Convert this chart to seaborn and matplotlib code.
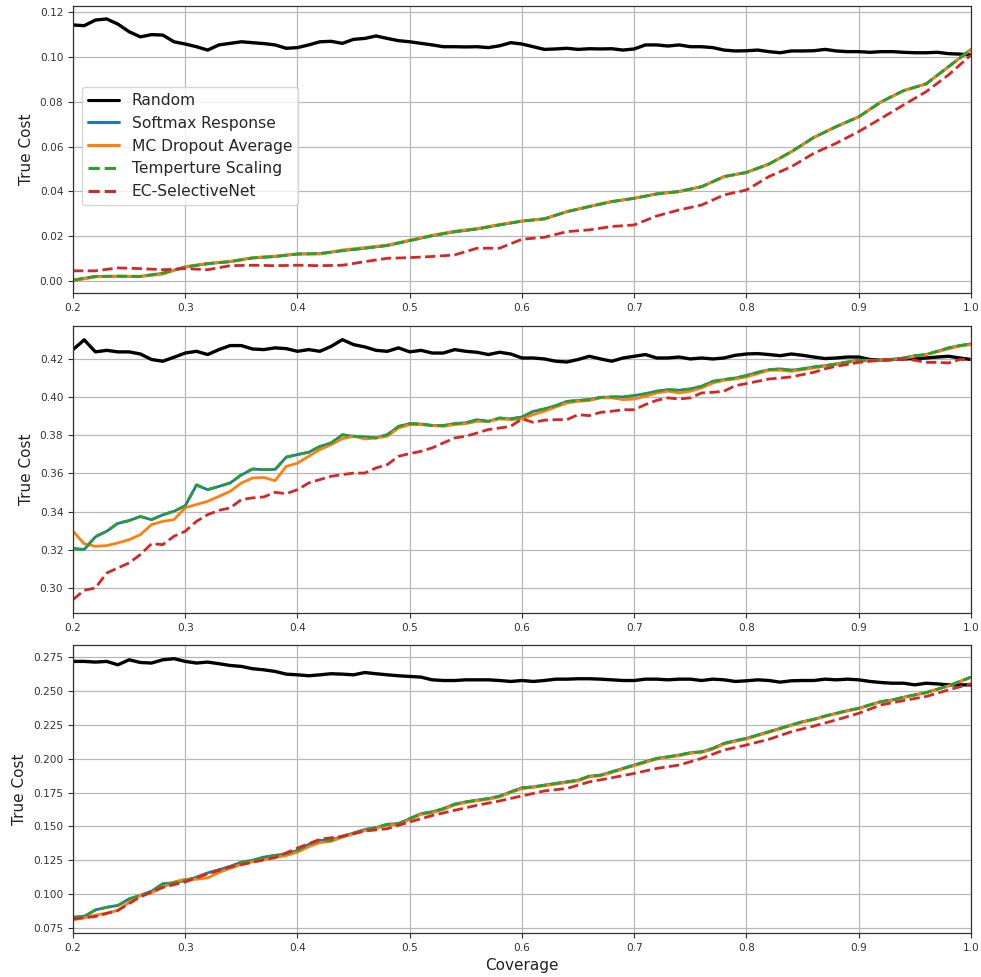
import numpy as np
import pandas as pd
import matplotlib
matplotlib.use("Agg")
import matplotlib.pyplot as plt
import seaborn as sns

# ---------------------------------------------------------------- data
cov_fine = np.round(np.arange(0.20, 1.0001, 0.01), 2)    # 81 points
cov_coarse = np.round(np.arange(0.20, 1.0001, 0.02), 2)  # 41 points

method_names = ["Random", "Softmax Response", "MC Dropout Average",
                "Temperture Scaling", "EC-SelectiveNet"]

# panel 1
p1_random = [
    0.1143, 0.1140, 0.1165, 0.1170, 0.1147, 0.1113, 0.1090, 0.1100, 0.1098, 0.1068,
    0.1058, 0.1046, 0.1031, 0.1054, 0.1061, 0.1068, 0.1064, 0.1060, 0.1054, 0.1039,
    0.1042, 0.1054, 0.1068, 0.1070, 0.1061, 0.1079, 0.1083, 0.1094, 0.1083, 0.1073,
    0.1068, 0.1061, 0.1054, 0.1046, 0.1046, 0.1045, 0.1046, 0.1042, 0.1050, 0.1064,
    0.1058, 0.1046, 0.1034, 0.1036, 0.1039, 0.1034, 0.1037, 0.1036, 0.1037, 0.1031,
    0.1036, 0.1054, 0.1054, 0.1049, 0.1054, 0.1046, 0.1046, 0.1042, 0.1031, 0.1027,
    0.1028, 0.1031, 0.1024, 0.1019, 0.1027, 0.1027, 0.1028, 0.1034, 0.1027, 0.1024,
    0.1024, 0.1021, 0.1024, 0.1024, 0.1021, 0.1019, 0.1019, 0.1021, 0.1015, 0.1013,
    0.1009]
p1_softmax = [
    0.0003, 0.0020, 0.0021, 0.0020, 0.0034, 0.0062, 0.0077, 0.0086, 0.0103, 0.0109,
    0.0120, 0.0122, 0.0135, 0.0146, 0.0158, 0.0180, 0.0202, 0.0219, 0.0232, 0.0250,
    0.0267, 0.0278, 0.0309, 0.0332, 0.0354, 0.0369, 0.0389, 0.0400, 0.0421, 0.0466,
    0.0485, 0.0522, 0.0577, 0.0641, 0.0689, 0.0733, 0.0800, 0.0850, 0.0880, 0.0957,
    0.1034]
p1_mcdropout = [
    0.0000, 0.0018, 0.0021, 0.0020, 0.0030, 0.0064, 0.0078, 0.0088, 0.0104, 0.0111,
    0.0121, 0.0120, 0.0138, 0.0149, 0.0160, 0.0182, 0.0204, 0.0222, 0.0234, 0.0252,
    0.0268, 0.0276, 0.0310, 0.0333, 0.0355, 0.0369, 0.0388, 0.0398, 0.0420, 0.0465,
    0.0484, 0.0521, 0.0576, 0.0641, 0.0690, 0.0733, 0.0799, 0.0849, 0.0880, 0.0956,
    0.1033]
p1_tempscale = [
    0.0004, 0.0020, 0.0021, 0.0020, 0.0035, 0.0062, 0.0077, 0.0086, 0.0102, 0.0109,
    0.0120, 0.0122, 0.0135, 0.0146, 0.0158, 0.0180, 0.0202, 0.0220, 0.0232, 0.0250,
    0.0267, 0.0277, 0.0309, 0.0332, 0.0354, 0.0369, 0.0388, 0.0399, 0.0421, 0.0466,
    0.0484, 0.0522, 0.0577, 0.0641, 0.0689, 0.0733, 0.0800, 0.0850, 0.0880, 0.0957,
    0.1034]
p1_ecsnet = [
    0.0045, 0.0045, 0.0058, 0.0055, 0.0050, 0.0055, 0.0050, 0.0068, 0.0070, 0.0068,
    0.0070, 0.0068, 0.0070, 0.0086, 0.0101, 0.0104, 0.0109, 0.0116, 0.0146, 0.0146,
    0.0186, 0.0195, 0.0220, 0.0228, 0.0243, 0.0250, 0.0290, 0.0317, 0.0339, 0.0384,
    0.0406, 0.0466, 0.0510, 0.0570, 0.0615, 0.0667, 0.0726, 0.0786, 0.0845, 0.0920,
    0.1009]

# panel 2
p2_random = [
    0.4249, 0.4300, 0.4237, 0.4245, 0.4237, 0.4237, 0.4226, 0.4197, 0.4188, 0.4209,
    0.4231, 0.4240, 0.4223, 0.4249, 0.4270, 0.4270, 0.4252, 0.4249, 0.4258, 0.4254,
    0.4240, 0.4249, 0.4240, 0.4266, 0.4301, 0.4275, 0.4263, 0.4245, 0.4240, 0.4258,
    0.4237, 0.4245, 0.4231, 0.4231, 0.4249, 0.4240, 0.4235, 0.4223, 0.4235, 0.4226,
    0.4205, 0.4205, 0.4200, 0.4188, 0.4184, 0.4197, 0.4214, 0.4200, 0.4188, 0.4205,
    0.4214, 0.4223, 0.4205, 0.4205, 0.4210, 0.4200, 0.4205, 0.4200, 0.4205, 0.4219,
    0.4226, 0.4228, 0.4223, 0.4217, 0.4226, 0.4219, 0.4210, 0.4202, 0.4205, 0.4210,
    0.4210, 0.4197, 0.4193, 0.4197, 0.4200, 0.4202, 0.4205, 0.4210, 0.4214, 0.4205,
    0.4197]
p2_softmax = [
    0.3207, 0.3202, 0.3268, 0.3297, 0.3338, 0.3353, 0.3374, 0.3358, 0.3383, 0.3402,
    0.3430, 0.3539, 0.3515, 0.3532, 0.3550, 0.3592, 0.3623, 0.3620, 0.3621, 0.3685,
    0.3699, 0.3711, 0.3741, 0.3760, 0.3802, 0.3795, 0.3791, 0.3787, 0.3803, 0.3846,
    0.3861, 0.3859, 0.3852, 0.3851, 0.3861, 0.3866, 0.3881, 0.3873, 0.3890, 0.3886,
    0.3896, 0.3925, 0.3938, 0.3955, 0.3977, 0.3982, 0.3987, 0.3998, 0.4001, 0.4001,
    0.4008, 0.4018, 0.4031, 0.4039, 0.4036, 0.4043, 0.4057, 0.4082, 0.4092, 0.4100,
    0.4113, 0.4130, 0.4143, 0.4148, 0.4141, 0.4148, 0.4158, 0.4165, 0.4174, 0.4184,
    0.4193, 0.4193, 0.4193, 0.4197, 0.4205, 0.4217, 0.4223, 0.4240, 0.4258, 0.4270,
    0.4279]
p2_mcdropout = [
    0.3297, 0.3232, 0.3218, 0.3222, 0.3236, 0.3253, 0.3279, 0.3332, 0.3349, 0.3358,
    0.3420, 0.3437, 0.3454, 0.3480, 0.3506, 0.3550, 0.3576, 0.3579, 0.3562, 0.3637,
    0.3654, 0.3690, 0.3725, 0.3751, 0.3782, 0.3795, 0.3781, 0.3786, 0.3795, 0.3838,
    0.3856, 0.3856, 0.3851, 0.3847, 0.3856, 0.3861, 0.3873, 0.3873, 0.3886, 0.3882,
    0.3886, 0.3908, 0.3926, 0.3948, 0.3969, 0.3978, 0.3982, 0.3996, 0.3996, 0.3987,
    0.3990, 0.4004, 0.4022, 0.4031, 0.4022, 0.4031, 0.4048, 0.4074, 0.4088, 0.4095,
    0.4106, 0.4123, 0.4141, 0.4141, 0.4135, 0.4144, 0.4153, 0.4162, 0.4171, 0.4182,
    0.4190, 0.4190, 0.4193, 0.4197, 0.4202, 0.4214, 0.4223, 0.4237, 0.4253, 0.4267,
    0.4275]
p2_tempscale = [
    0.3205, 0.3200, 0.3270, 0.3297, 0.3340, 0.3353, 0.3375, 0.3358, 0.3384, 0.3402,
    0.3431, 0.3541, 0.3515, 0.3533, 0.3550, 0.3594, 0.3624, 0.3620, 0.3620, 0.3686,
    0.3699, 0.3711, 0.3742, 0.3760, 0.3803, 0.3795, 0.3791, 0.3786, 0.3803, 0.3847,
    0.3861, 0.3859, 0.3851, 0.3851, 0.3861, 0.3865, 0.3882, 0.3873, 0.3891, 0.3886,
    0.3896, 0.3926, 0.3938, 0.3955, 0.3978, 0.3982, 0.3987, 0.3999, 0.4001, 0.4001,
    0.4008, 0.4018, 0.4031, 0.4039, 0.4036, 0.4043, 0.4057, 0.4083, 0.4092, 0.4100,
    0.4113, 0.4130, 0.4144, 0.4148, 0.4141, 0.4148, 0.4158, 0.4165, 0.4174, 0.4184,
    0.4193, 0.4193, 0.4193, 0.4197, 0.4205, 0.4217, 0.4223, 0.4240, 0.4258, 0.4270,
    0.4279]
p2_ecsnet = [
    0.2939, 0.2988, 0.3000, 0.3078, 0.3105, 0.3131, 0.3175, 0.3232, 0.3227, 0.3271,
    0.3297, 0.3349, 0.3384, 0.3407, 0.3419, 0.3463, 0.3472, 0.3477, 0.3501, 0.3494,
    0.3515, 0.3550, 0.3568, 0.3585, 0.3594, 0.3602, 0.3602, 0.3629, 0.3646, 0.3690,
    0.3704, 0.3716, 0.3734, 0.3760, 0.3786, 0.3795, 0.3812, 0.3830, 0.3838, 0.3847,
    0.3886, 0.3868, 0.3879, 0.3882, 0.3882, 0.3908, 0.3903, 0.3920, 0.3926, 0.3934,
    0.3934, 0.3961, 0.3983, 0.3996, 0.3990, 0.3996, 0.4022, 0.4025, 0.4031, 0.4060,
    0.4071, 0.4083, 0.4095, 0.4100, 0.4106, 0.4118, 0.4130, 0.4148, 0.4162, 0.4171,
    0.4182, 0.4188, 0.4193, 0.4197, 0.4200, 0.4193, 0.4182, 0.4182, 0.4179, 0.4197,
    0.4197]

# panel 3
p3_random = [
    0.2718, 0.2718, 0.2713, 0.2718, 0.2693, 0.2730, 0.2710, 0.2706, 0.2730, 0.2738,
    0.2718, 0.2706, 0.2713, 0.2701, 0.2688, 0.2681, 0.2664, 0.2656, 0.2644, 0.2624,
    0.2619, 0.2612, 0.2619, 0.2627, 0.2624, 0.2619, 0.2636, 0.2627, 0.2619, 0.2612,
    0.2607, 0.2602, 0.2582, 0.2577, 0.2577, 0.2582, 0.2582, 0.2582, 0.2577, 0.2570,
    0.2577, 0.2570, 0.2577, 0.2587, 0.2587, 0.2590, 0.2590, 0.2587, 0.2582, 0.2577,
    0.2577, 0.2587, 0.2587, 0.2582, 0.2587, 0.2587, 0.2577, 0.2587, 0.2582, 0.2570,
    0.2575, 0.2582, 0.2577, 0.2565, 0.2575, 0.2577, 0.2577, 0.2587, 0.2582, 0.2587,
    0.2582, 0.2570, 0.2562, 0.2557, 0.2557, 0.2545, 0.2557, 0.2552, 0.2545, 0.2545,
    0.2545]
p3_softmax = [
    0.0830, 0.0836, 0.0884, 0.0903, 0.0917, 0.0965, 0.0991, 0.1022, 0.1077, 0.1083,
    0.1100, 0.1125, 0.1157, 0.1180, 0.1205, 0.1236, 0.1250, 0.1274, 0.1286, 0.1297,
    0.1323, 0.1368, 0.1397, 0.1398, 0.1428, 0.1451, 0.1477, 0.1491, 0.1516, 0.1521,
    0.1558, 0.1594, 0.1608, 0.1631, 0.1664, 0.1681, 0.1694, 0.1706, 0.1723, 0.1755,
    0.1785, 0.1792, 0.1805, 0.1817, 0.1829, 0.1841, 0.1871, 0.1879, 0.1903, 0.1928,
    0.1953, 0.1978, 0.2002, 0.2014, 0.2027, 0.2044, 0.2051, 0.2076, 0.2113, 0.2133,
    0.2150, 0.2175, 0.2199, 0.2224, 0.2249, 0.2273, 0.2291, 0.2315, 0.2335, 0.2355,
    0.2372, 0.2397, 0.2422, 0.2434, 0.2454, 0.2471, 0.2488, 0.2513, 0.2538, 0.2570,
    0.2602]
p3_mcdropout = [
    0.0810, 0.0825, 0.0845, 0.0860, 0.0880, 0.0940, 0.0990, 0.1010, 0.1050, 0.1090,
    0.1110, 0.1110, 0.1120, 0.1160, 0.1190, 0.1220, 0.1240, 0.1255, 0.1270, 0.1285,
    0.1310, 0.1350, 0.1380, 0.1390, 0.1420, 0.1445, 0.1470, 0.1485, 0.1510, 0.1515,
    0.1550, 0.1588, 0.1600, 0.1625, 0.1658, 0.1676, 0.1690, 0.1700, 0.1718, 0.1750,
    0.1778, 0.1788, 0.1800, 0.1812, 0.1824, 0.1836, 0.1866, 0.1874, 0.1898, 0.1924,
    0.1948, 0.1972, 0.1997, 0.2010, 0.2022, 0.2040, 0.2046, 0.2070, 0.2108, 0.2128,
    0.2145, 0.2170, 0.2195, 0.2220, 0.2245, 0.2270, 0.2288, 0.2312, 0.2332, 0.2352,
    0.2370, 0.2395, 0.2420, 0.2432, 0.2452, 0.2470, 0.2487, 0.2512, 0.2537, 0.2568,
    0.2600]
p3_tempscale = [
    0.0829, 0.0834, 0.0883, 0.0903, 0.0915, 0.0965, 0.0990, 0.1022, 0.1076, 0.1083,
    0.1101, 0.1125, 0.1155, 0.1180, 0.1204, 0.1236, 0.1249, 0.1273, 0.1286, 0.1298,
    0.1323, 0.1367, 0.1397, 0.1397, 0.1427, 0.1451, 0.1476, 0.1491, 0.1515, 0.1520,
    0.1557, 0.1594, 0.1607, 0.1631, 0.1664, 0.1681, 0.1693, 0.1706, 0.1723, 0.1755,
    0.1785, 0.1792, 0.1804, 0.1817, 0.1829, 0.1841, 0.1871, 0.1878, 0.1903, 0.1928,
    0.1953, 0.1977, 0.2002, 0.2014, 0.2027, 0.2044, 0.2051, 0.2076, 0.2113, 0.2133,
    0.2150, 0.2175, 0.2199, 0.2224, 0.2249, 0.2273, 0.2291, 0.2315, 0.2335, 0.2355,
    0.2372, 0.2397, 0.2422, 0.2434, 0.2454, 0.2471, 0.2488, 0.2513, 0.2538, 0.2570,
    0.2602]
p3_ecsnet = [
    0.0817, 0.0835, 0.0880, 0.0980, 0.1050, 0.1090, 0.1150, 0.1200, 0.1235, 0.1270,
    0.1340, 0.1405, 0.1427, 0.1466, 0.1483, 0.1533, 0.1580, 0.1619, 0.1656, 0.1688,
    0.1725, 0.1762, 0.1780, 0.1829, 0.1859, 0.1891, 0.1928, 0.1953, 0.2002, 0.2064,
    0.2101, 0.2143, 0.2199, 0.2241, 0.2286, 0.2335, 0.2397, 0.2429, 0.2459, 0.2508,
    0.2553]

y_limits = [(-0.0054, 0.1228), (0.2869, 0.4373), (0.0713, 0.2839)]
x_ticks = [0.2, 0.3, 0.4, 0.5, 0.6, 0.7, 0.8, 0.9, 1.0]

panels = [
    (p1_random, p1_softmax, p1_mcdropout, p1_tempscale, p1_ecsnet),
    (p2_random, p2_softmax, p2_mcdropout, p2_tempscale, p2_ecsnet),
    (p3_random, p3_softmax, p3_mcdropout, p3_tempscale, p3_ecsnet),
]

# ---------------------------------------------------------------- style
sns.set_theme(style="ticks")
plt.rcParams["font.family"] = ["DejaVu Sans"]

line_styles = [
    dict(color="black", linestyle="-", linewidth=2.4),
    dict(color="#1f77b4", linestyle="-", linewidth=2.0),
    dict(color="#ff7f0e", linestyle="-", linewidth=2.0),
    dict(color="#2ca02c", linestyle="--", linewidth=2.0),
    dict(color="#d62728", linestyle="--", linewidth=2.0),
]


def coverage_for(values):
    return cov_fine if len(values) == len(cov_fine) else cov_coarse


fig = plt.figure(figsize=(9.81, 9.77), dpi=100)
axes = []
panel_boxes = [(0.0744, 0.7001, 0.9154, 0.2938),
               (0.0744, 0.3726, 0.9154, 0.2938),
               (0.0744, 0.0450, 0.9154, 0.2948)]
for box in panel_boxes:
    axes.append(fig.add_axes(box))

for i, (ax, series) in enumerate(zip(axes, panels)):
    for name, values, st in zip(method_names, series, line_styles):
        df = pd.DataFrame({"coverage": coverage_for(values), "cost": values})
        sns.lineplot(data=df, x="coverage", y="cost", ax=ax,
                     label=name if i == 0 else None, legend=(i == 0),
                     **st)
    ax.set_xlim(0.2, 1.0)
    ax.set_ylim(*y_limits[i])
    ax.set_xticks(x_ticks)
    ax.set_xticklabels([f"{t:.1f}" for t in x_ticks])
    ax.grid(True, color="#b8b8b8", linewidth=0.9)
    ax.tick_params(labelsize=7.6, length=3.5, width=0.8, colors="#333333",
                   labelcolor="#333333")
    for sp in ax.spines.values():
        sp.set_color("#333333")
        sp.set_linewidth(0.9)
    ax.set_ylabel("True Cost", fontsize=11, color="#222222")
    ax.set_xlabel("")

axes[2].yaxis.set_major_formatter(matplotlib.ticker.FormatStrFormatter("%.3f"))
axes[0].yaxis.set_major_formatter(matplotlib.ticker.FormatStrFormatter("%.2f"))
axes[1].yaxis.set_major_formatter(matplotlib.ticker.FormatStrFormatter("%.2f"))
axes[2].set_xlabel("Coverage", fontsize=11, color="#222222")

leg = axes[0].legend(loc="upper left", bbox_to_anchor=(0.01, 0.718),
                     borderaxespad=0.0, fontsize=11.2, frameon=True,
                     handlelength=2.0)
leg.get_frame().set_edgecolor("#cccccc")
for h in leg.get_lines():
    h.set_linewidth(2.2)

fig.savefig("out.png", dpi=100)
